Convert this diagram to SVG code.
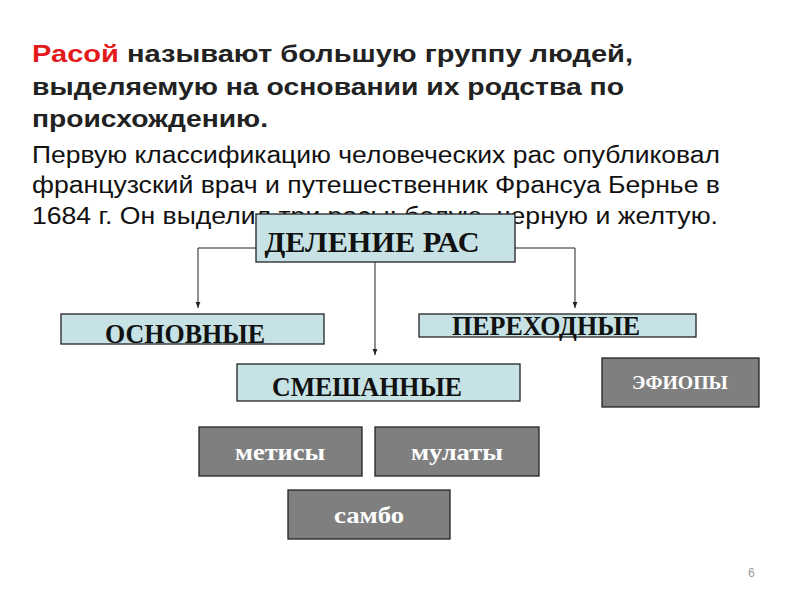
<svg xmlns="http://www.w3.org/2000/svg" width="800" height="600" viewBox="0 0 800 600">
<style>
.h{font-family:"Liberation Sans",Arial,sans-serif;font-size:24px;font-weight:bold;fill:#222}
.p{font-family:"Liberation Sans",Arial,sans-serif;font-size:23px;fill:#111}
.lb{fill:#c6e2e4;stroke:#222;stroke-width:1.3}
.gb{fill:#7f7f7f;stroke:#222;stroke-width:1.3}
.t{font-family:"Liberation Serif","Times New Roman",serif;font-weight:bold;text-anchor:middle;fill:#111}
.w{font-family:"Liberation Serif","Times New Roman",serif;font-weight:bold;text-anchor:middle;fill:#fff}
.c{fill:none;stroke:#222;stroke-width:1}
</style>
<defs><marker id="a" viewBox="0 0 10 10" refX="10" refY="5" markerWidth="6" markerHeight="6" orient="auto"><path d="M0,1L10,5L0,9z" fill="#222"/></marker></defs>
<rect width="800" height="600" fill="#fff"/>
<text class="h" x="32" y="62" textLength="601" lengthAdjust="spacingAndGlyphs"><tspan fill="#e31a1a">Расой</tspan> называют большую группу людей,</text>
<text class="h" x="32" y="95" textLength="592" lengthAdjust="spacingAndGlyphs">выделяемую на основании их родства  по</text>
<text class="h" x="32" y="127" textLength="236" lengthAdjust="spacingAndGlyphs">происхождению.</text>
<text class="p" x="32" y="163" textLength="688" lengthAdjust="spacingAndGlyphs">Первую классификацию человеческих рас опубликовал</text>
<text class="p" x="32" y="193" textLength="688" lengthAdjust="spacingAndGlyphs">французский врач и путешественник Франсуа Бернье в</text>
<text class="p" x="32" y="224" textLength="686" lengthAdjust="spacingAndGlyphs">1684 г. Он выделил три расы: белую, черную и желтую.</text>
<g id="connectors">
<path class="c" d="M256,248H198V308" marker-end="url(#a)"/>
<path class="c" d="M515,248H575V308" marker-end="url(#a)"/>
<path class="c" d="M375,262V355" marker-end="url(#a)"/>
</g>
<g id="root"><rect class="lb" x="256" y="214" width="259" height="48"/><text class="t" x="372" y="252" font-size="30" textLength="215" lengthAdjust="spacingAndGlyphs">ДЕЛЕНИЕ РАС</text></g>
<g id="osn"><rect class="lb" x="61" y="314" width="263" height="30"/><text class="t" x="185" y="343" font-size="28" textLength="160" lengthAdjust="spacingAndGlyphs">ОСНОВНЫЕ</text></g>
<g id="per"><rect class="lb" x="419" y="314" width="277" height="23"/><text class="t" x="546" y="335" font-size="28" textLength="188" lengthAdjust="spacingAndGlyphs">ПЕРЕХОДНЫЕ</text></g>
<g id="sm"><rect class="lb" x="237" y="364" width="283" height="37"/><text class="t" x="367" y="396" font-size="28" textLength="190" lengthAdjust="spacingAndGlyphs">СМЕШАННЫЕ</text></g>
<g id="ef"><rect class="gb" x="602" y="358" width="157" height="49"/><text class="w" x="680" y="389" font-size="18" textLength="96" lengthAdjust="spacingAndGlyphs">ЭФИОПЫ</text></g>
<g id="met"><rect class="gb" x="199" y="427" width="163" height="49"/><text class="w" x="280" y="460" font-size="23" textLength="90" lengthAdjust="spacingAndGlyphs">метисы</text></g>
<g id="mul"><rect class="gb" x="375" y="427" width="164" height="49"/><text class="w" x="457" y="460" font-size="23" textLength="92" lengthAdjust="spacingAndGlyphs">мулаты</text></g>
<g id="sam"><rect class="gb" x="288" y="490" width="162" height="49"/><text class="w" x="369" y="523" font-size="23" textLength="70" lengthAdjust="spacingAndGlyphs">самбо</text></g>
<text x="748" y="577" font-family="Liberation Sans,sans-serif" font-size="12" fill="#999">6</text>
</svg>
